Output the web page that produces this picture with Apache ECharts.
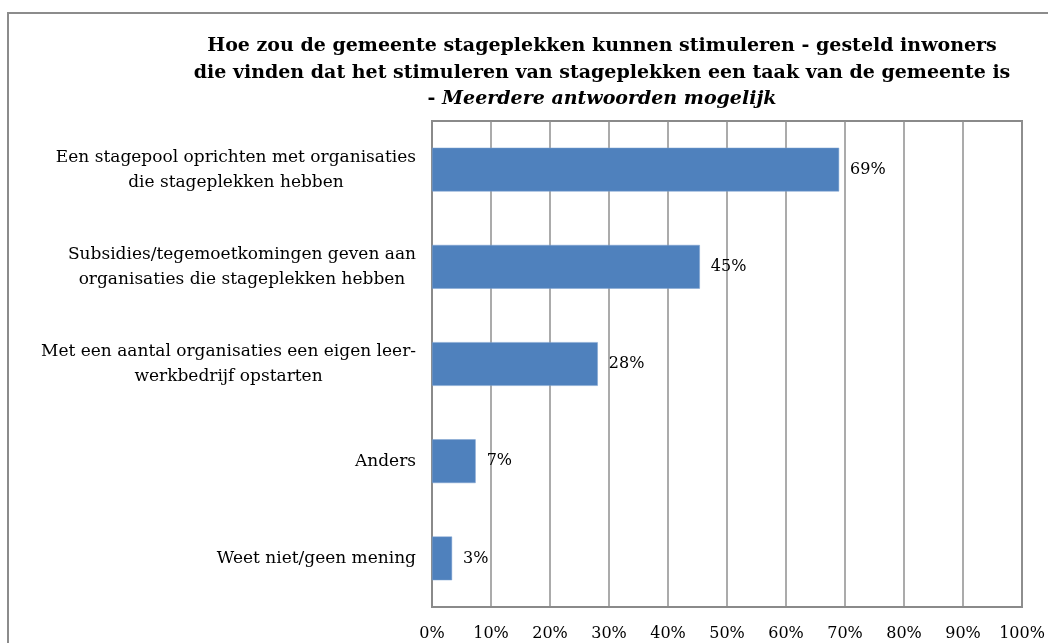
<!DOCTYPE html>
<html>
<head>
<meta charset="utf-8">
<script src="https://cdn.jsdelivr.net/npm/echarts@6/dist/echarts.min.js"></script>
<style>
html,body{margin:0;padding:0;background:#fff;}
#chart{width:1048px;height:643px;}
</style>
</head>
<body>
<div id="chart"></div>
<script>
var categories = [
  "Een stagepool oprichten met organisaties\ndie stageplekken hebben",
  "Subsidies/tegemoetkomingen geven aan\norganisaties die stageplekken hebben",
  "Met een aantal organisaties een eigen leer-\nwerkbedrijf opstarten",
  "Anders",
  "Weet niet/geen mening"
];
var values = [69, 45.4, 28.1, 7.4, 3.4];
var tickValues = [0, 10, 20, 30, 40, 50, 60, 70, 80, 90, 100];

var serif = '"DejaVu Serif", "Liberation Serif", serif';
var chart = echarts.init(document.getElementById('chart'));
chart.setOption({
  animation: false,
  backgroundColor: '#ffffff',
  title: {
    text: '{b|Hoe zou de gemeente stageplekken kunnen stimuleren - gesteld inwoners}\n{b|die vinden dat het stimuleren van stageplekken een taak van de gemeente is}\n{b|- }{i|Meerdere antwoorden mogelijk}',
    left: 597,
    top: 28,
    textAlign: 'center',
    textStyle: {
      rich: {
        b: {fontFamily: serif, fontWeight: 'bold', fontSize: 19, color: '#000', lineHeight: 26.5, align: 'center'},
        i: {fontFamily: serif, fontWeight: 'bold', fontStyle: 'italic', fontSize: 19, color: '#000', lineHeight: 26.5}
      }
    }
  },
  graphic: [{
    type: 'rect',
    shape: {x: 8, y: 13, width: 1100, height: 700},
    style: {fill: 'none', stroke: '#8c8c8c', lineWidth: 2},
    silent: true,
    z: -1
  }],
  grid: {left: 432, top: 121, right: 26, bottom: 36, containLabel: false,
         show: true, borderColor: '#8a8a8a', borderWidth: 2, backgroundColor: 'transparent'},
  xAxis: {
    type: 'value',
    min: 0,
    max: 100,
    interval: 10,
    axisLine: {show: true, lineStyle: {color: '#8a8a8a', width: 2}},
    axisTick: {show: false},
    splitLine: {show: true, lineStyle: {color: '#8f8f8f', width: 1.5}},
    axisLabel: {
      margin: 19,
      fontFamily: serif,
      fontSize: 16,
      color: '#000',
      formatter: function (v) { return v + '%'; }
    }
  },
  yAxis: {
    type: 'category',
    data: categories,
    inverse: true,
    axisLine: {show: true, lineStyle: {color: '#8a8a8a', width: 2}},
    axisTick: {show: false},
    splitLine: {show: false},
    axisLabel: {
      margin: 16,
      align: 'right',
      formatter: function (v) {
        return v.split('\n').map(function (l) { return '{c|' + l + '}'; }).join('\n');
      },
      rich: {
        c: {fontFamily: serif, fontSize: 17, color: '#000', lineHeight: 25, align: 'center'}
      }
    }
  },
  series: [{
    type: 'bar',
    data: values,
    barWidth: '45%',
    itemStyle: {color: '#4f81bd', borderColor: '#7fa3d1', borderWidth: 0.5},
    label: {
      show: true,
      position: 'right',
      distance: 11,
      fontFamily: serif,
      fontSize: 16,
      color: '#000',
      formatter: function (p) { return Math.round(p.value) + '%'; }
    }
  }]
});
</script>
</body>
</html>
